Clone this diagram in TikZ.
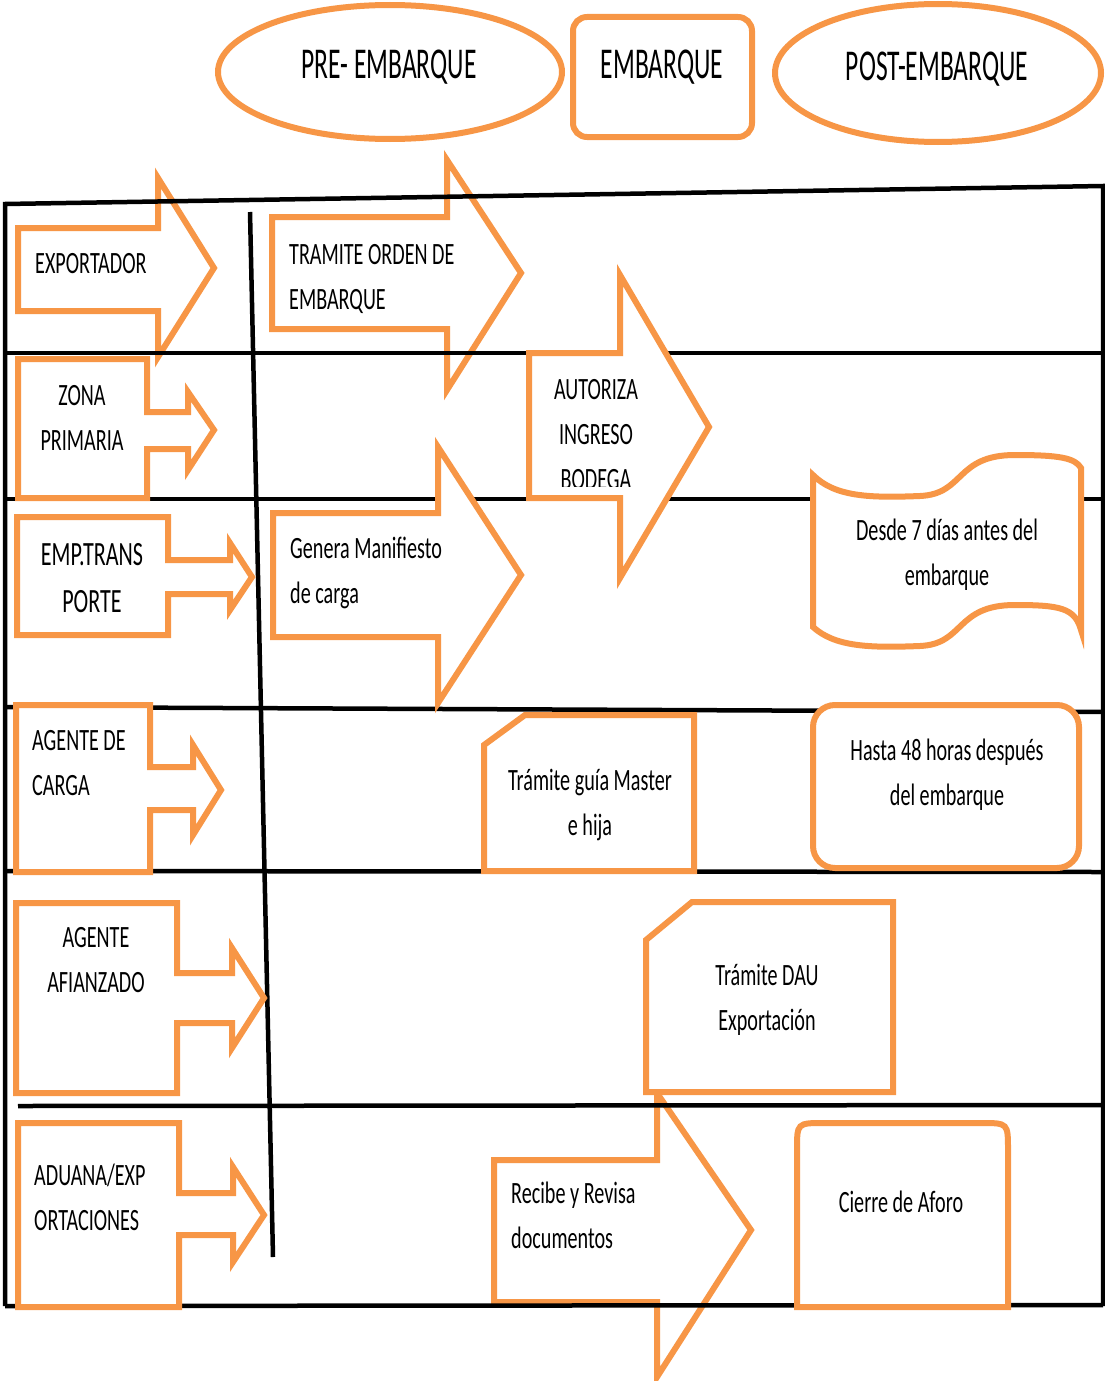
\documentclass[tikz,border=0pt]{standalone}
\usepackage{fontspec}
\setmainfont{Carlito}[FakeStretch=0.65]
\newfontfamily\hdrfont{Carlito}[FakeStretch=0.58]
\definecolor{ora}{HTML}{F79646}
\newcommand\bodytxt{\fontsize{31}{45}\selectfont}
\newcommand\bigtxt{\fontsize{34}{47}\selectfont}
\newcommand\hdrtxt{\hdrfont\fontsize{44}{50}\selectfont}
\tikzset{
  ob/.style={draw=ora, line width=6pt, fill=white, line join=miter},
  bl/.style={draw=black, line width=4.5pt},
  lbl/.style={inner sep=0pt, font=\bodytxt, text=black},
  lblc/.style={lbl, align=center, anchor=base},
  lbll/.style={lbl, align=left, anchor=base west},
  hdr/.style={inner sep=0pt, font=\hdrtxt, text=black, anchor=base}
}
\begin{document}
\begin{tikzpicture}[x=1pt,y=-1pt]
\useasboundingbox (0,0) rectangle (1105,1381);

% header shapes
\draw[ob] (390,72) ellipse [x radius=172pt, y radius=67pt];
\draw[ob, rounded corners=14pt] (573,17) rectangle (752,137);
\draw[ob] (938,73) ellipse [x radius=163pt, y radius=69pt];

% shapes lying beneath the table lines
\draw[ob] (18,228) -- (158,228) -- (158,178) -- (214,268) -- (158,357) -- (158,311) -- (18,311) -- cycle;
\draw[ob] (272,217) -- (447,217) -- (447,160) -- (521,273) -- (447,390) -- (447,329) -- (272,329) -- cycle;
\draw[ob] (494,1160) -- (657,1160) -- (657,1093) -- (751,1230) -- (657,1377) -- (657,1302) -- (494,1302) -- cycle;

% table lines
\draw[bl] (5,1306) -- (5,204) -- (1103,186) -- (1103,1306);
\draw[bl] (5,353) -- (1103,353);
\draw[bl] (5,499) -- (1103,499);
\draw[bl] (5,707) -- (1103,712);
\draw[bl] (5,871) -- (1103,872);
\draw[bl] (18,1106) -- (1103,1105);
\draw[bl] (5,1306) -- (1103,1305);
\draw[bl] (250,212) -- (273,1257);

% left lane actors
\draw[ob] (18,359) -- (147,359) -- (147,412) -- (188,412) -- (188,392) -- (214,430) -- (188,470) -- (188,449) -- (147,449) -- (147,498) -- (18,498) -- cycle;
\draw[ob] (17,517) -- (168,517) -- (168,560) -- (230,560) -- (230,543) -- (252,577) -- (230,610) -- (230,594) -- (168,594) -- (168,635) -- (17,635) -- cycle;
\draw[ob] (16,705) -- (150,705) -- (150,767) -- (193,767) -- (193,745) -- (221,790) -- (193,835) -- (193,810) -- (150,810) -- (150,872) -- (16,872) -- cycle;
\draw[ob] (16,903) -- (177,903) -- (177,973) -- (232,973) -- (232,948) -- (264,998) -- (232,1048) -- (232,1023) -- (177,1023) -- (177,1093) -- (16,1093) -- cycle;
\draw[ob] (18,1123) -- (179,1123) -- (179,1193) -- (233,1193) -- (233,1167) -- (264,1215) -- (233,1262) -- (233,1235) -- (179,1235) -- (179,1307) -- (18,1307) -- cycle;

% process shapes above the lines
\draw[ob] (273,513) -- (438,513) -- (438,447) -- (521,575) -- (438,703) -- (438,637) -- (273,637) -- cycle;
\draw[ob] (529,353) -- (620,353) -- (620,275) -- (709,427) -- (620,578) -- (620,498) -- (529,498) -- cycle;
\draw[ob] (813,475) .. controls (835,497) and (870,498) .. (920,496)
  .. controls (965,494) and (955,455) .. (1015,455)
  .. controls (1060,455) and (1075,458) .. (1081,468)
  -- (1081,630) .. controls (1075,608) and (1060,605) .. (1015,605)
  .. controls (955,605) and (965,644) .. (920,646)
  .. controls (870,648) and (835,647) .. (813,627) -- cycle;
\draw[ob] (484,745) -- (525,715) -- (694,715) -- (694,871) -- (484,871) -- cycle;
\draw[ob, rounded corners=22pt] (813,705) rectangle (1079,868);
\draw[ob] (646,940) -- (692,902) -- (893,902) -- (893,1092) -- (646,1092) -- cycle;
\draw[ob] (797,1307) -- (797,1150) .. controls (797,1123) .. (824,1123) -- (981,1123) .. controls (1008,1123) .. (1008,1150) -- (1008,1307) -- cycle;

% header texts
\node[hdr] (tpre) at (389,78) {PRE- EMBARQUE};
\node[hdr] (temb) at (662,78) {EMBARQUE};
\node[hdr] (tpost) at (937,81) {POST-EMBARQUE};

% texts (anchor = baseline of the last line)
\node[lbll] (texp) at (35,273) {EXPORTADOR};
\node[lbll] (ttram) at (289,309) {TRAMITE ORDEN DE\\EMBARQUE};
\node[lblc] (tzona) at (82,450) {ZONA\\PRIMARIA};
\begin{scope}
\clip (529,300) rectangle (700,486);
\node[lblc] (taut) at (596,489) {AUTORIZA\\INGRESO\\BODEGA};
\end{scope}
\node[lblc, font=\bigtxt] (temp) at (92,612) {EMP.TRANS\\PORTE};
\node[lbll] (tgen) at (290,603) {Genera Manifiesto\\de carga};
\node[lblc] (tdesde) at (947,585) {Desde 7 días antes del\\embarque};
\node[lbll] (tagc) at (32,795) {AGENTE DE\\CARGA};
\node[lblc] (tguia) at (590,835) {Trámite guía Master\\e hija};
\node[lblc] (thasta) at (947,805) {Hasta 48 horas después\\del embarque};
\node[lblc] (tafi) at (96,992) {AGENTE\\AFIANZADO};
\node[lblc] (tdau) at (767,1030) {Trámite DAU\\Exportación};
\node[lbll] (tadu) at (34,1230) {ADUANA/EXP\\ORTACIONES};
\node[lbll] (trec) at (511,1248) {Recibe y Revisa\\documentos};
\node[lblc] (tcie) at (901,1212) {Cierre de Aforo};
\end{tikzpicture}
\end{document}
